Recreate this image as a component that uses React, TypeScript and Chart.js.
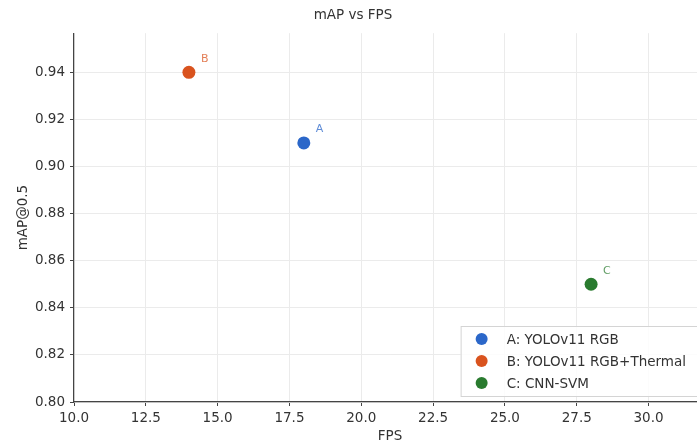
import React, { useEffect, useRef } from "react";
import { Chart, registerables } from "chart.js";

Chart.register(...registerables);

const pointLabels = ["A", "B", "C"];
const seriesNames = ["A: YOLOv11 RGB", "B: YOLOv11 RGB+Thermal", "C: CNN-SVM"];
const fpsValues = [18, 14, 28];
const mapValues = [0.91, 0.94, 0.85];
const seriesColors = ["#2b67c9", "#d9531e", "#2a7b2f"];
const xTickValues = [10, 12.5, 15, 17.5, 20, 22.5, 25, 27.5, 30];
const yTickValues = [0.8, 0.82, 0.84, 0.86, 0.88, 0.9, 0.92, 0.94];

const FONT = "'DejaVu Sans', sans-serif";
const FS = 13.5;

const pointLabelPlugin = {
  id: "pointLabels",
  afterDatasetsDraw(chart: any) {
    const ctx = chart.ctx;
    ctx.save();
    ctx.font = `11px ${FONT}`;
    ctx.textAlign = "left";
    ctx.textBaseline = "bottom";
    chart.data.datasets.forEach((ds: any, i: number) => {
      const meta = chart.getDatasetMeta(i);
      const el = meta.data[0];
      if (!el) return;
      ctx.globalAlpha = 0.75;
      ctx.fillStyle = ds.backgroundColor;
      ctx.fillText(pointLabels[i], el.x + 12, el.y - 8);
    });
    ctx.restore();
  },
};

const boxLegendPlugin = {
  id: "boxLegend",
  afterDraw(chart: any) {
    const ctx = chart.ctx;
    const area = chart.chartArea;
    ctx.save();
    ctx.font = `${FS}px ${FONT}`;
    const names = chart.data.datasets.map((d: any) => d.label);
    const maxW = Math.max(...names.map((n: string) => ctx.measureText(n).width));
    const rowH = 22;
    const w = 46 + maxW + 16;
    const h = names.length * rowH + 4;
    const right = area.right - 4;
    const bottom = area.bottom - 6;
    const left = right - w;
    const top = bottom - h;
    ctx.globalAlpha = 0.85;
    ctx.fillStyle = "#ffffff";
    ctx.fillRect(left, top, w, h);
    ctx.globalAlpha = 1;
    ctx.strokeStyle = "#d4d4d4";
    ctx.lineWidth = 1;
    ctx.strokeRect(left + 0.5, top + 0.5, w, h);
    ctx.textAlign = "left";
    ctx.textBaseline = "middle";
    chart.data.datasets.forEach((ds: any, i: number) => {
      const cy = top + 2 + rowH / 2 + i * rowH;
      ctx.fillStyle = ds.backgroundColor;
      ctx.beginPath();
      ctx.arc(left + 21, cy, 6, 0, Math.PI * 2);
      ctx.fill();
      ctx.fillStyle = "#333333";
      ctx.fillText(ds.label, left + 46, cy + 1);
    });
    ctx.restore();
  },
};

export default function App() {
  const ref = useRef<HTMLCanvasElement | null>(null);
  useEffect(() => {
    if (!ref.current) return;
    const datasets = seriesNames.map((name, i) => ({
      label: name,
      data: [{ x: fpsValues[i], y: mapValues[i] }],
      backgroundColor: seriesColors[i],
      borderColor: seriesColors[i],
      borderWidth: 0,
      pointRadius: 6.5,
      pointHoverRadius: 6.5,
    }));
    const chart = new Chart(ref.current, {
      type: "scatter",
      data: { datasets },
      options: {
        animation: false,
        responsive: false,
        layout: { padding: { left: 0, right: 14, top: 0, bottom: 0 } },
        plugins: {
          legend: { display: false },
          tooltip: { enabled: false },
          title: {
            display: true,
            text: "mAP vs FPS",
            color: "#333333",
            font: { family: FONT, size: FS, weight: "normal" },
            padding: { top: 7, bottom: 10 },
          },
        },
        scales: {
          x: {
            type: "linear",
            min: 10,
            max: 32,
            afterBuildTicks: (scale: any) => {
              scale.ticks = xTickValues.map((v) => ({ value: v }));
            },
            afterFit: (scale: any) => {
              scale.height = 43;
            },
            ticks: {
              color: "#333333",
              font: { family: FONT, size: FS },
              padding: 4,
              maxRotation: 0,
              autoSkip: false,
              callback: (v: any) => Number(v).toFixed(1),
            },
            grid: {
              color: "#ebebeb",
              lineWidth: 1,
              tickColor: "#444444",
              tickLength: 4,
            },
            border: { color: "#444444", width: 1.2 },
            title: {
              display: true,
              text: "FPS",
              color: "#333333",
              font: { family: FONT, size: FS },
              padding: { top: 0, bottom: 0 },
            },
          },
          y: {
            type: "linear",
            min: 0.8,
            max: 0.9566,
            afterBuildTicks: (scale: any) => {
              scale.ticks = yTickValues.map((v) => ({ value: v }));
            },
            afterFit: (scale: any) => {
              scale.width = 74;
            },
            ticks: {
              color: "#333333",
              font: { family: FONT, size: FS },
              padding: 5,
              autoSkip: false,
              callback: (v: any) => Number(v).toFixed(2),
            },
            grid: {
              color: "#ebebeb",
              lineWidth: 1,
              tickColor: "#444444",
              tickLength: 4,
            },
            border: { color: "#444444", width: 1.2 },
            title: {
              display: true,
              text: "mAP@0.5",
              color: "#333333",
              font: { family: FONT, size: FS },
              padding: { top: 15, bottom: 0 },
            },
          },
        },
      },
      plugins: [pointLabelPlugin, boxLegendPlugin],
    });
    return () => chart.destroy();
  }, []);

  return (
    <div
      style={{
        position: "fixed",
        left: 0,
        top: 0,
        width: 697,
        height: 445,
        overflow: "hidden",
        background: "#ffffff",
      }}
    >
      <canvas ref={ref} width={720} height={445} style={{ display: "block" }} />
    </div>
  );
}
